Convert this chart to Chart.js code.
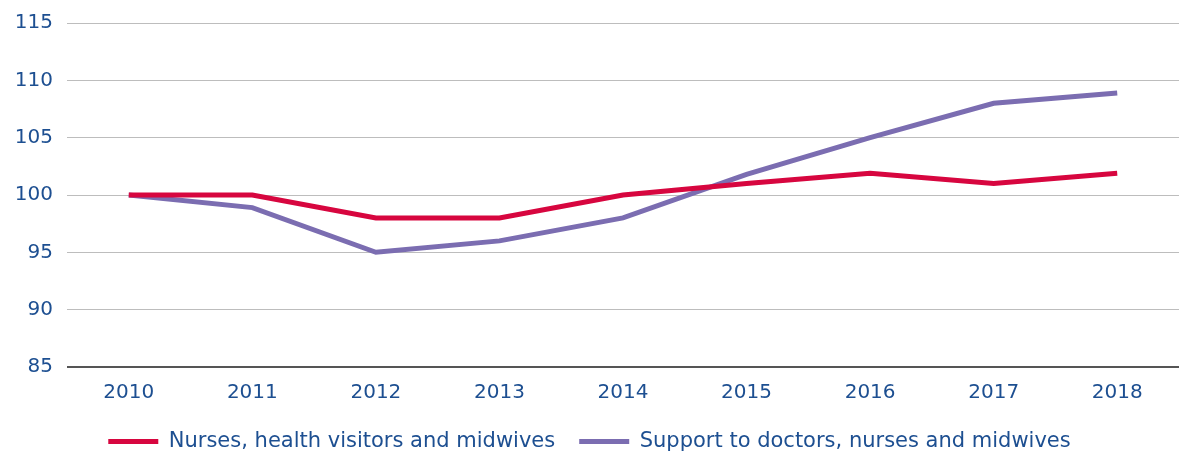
<!DOCTYPE html>
<html>
<head>
<meta charset="utf-8">
<script src="https://cdn.jsdelivr.net/npm/chart.js@4.4.1/dist/chart.umd.min.js"></script>
<style>
  html, body { margin: 0; padding: 0; background: #fff; }
  #wrap { width: 1179px; height: 455px; }
</style>
</head>
<body>
<div id="wrap"><canvas id="chart"></canvas></div>
<script>
// Index values (2010 = 100)
const years = ['2010', '2011', '2012', '2013', '2014', '2015', '2016', '2017', '2018'];
const nurses = [100, 100, 98, 98, 100, 101, 101.9, 101, 101.9];
const support = [100, 98.9, 95, 96, 98, 101.8, 105, 108, 108.9];
const seriesNames = ['Nurses, health visitors and midwives', 'Support to doctors, nurses and midwives'];
const seriesColors = ['#d7063f', '#7b6db1'];

const textColor = '#1d4f91';
const fontFamily = '"DejaVu Sans", sans-serif';

const ctx = document.getElementById('chart').getContext('2d');
new Chart(ctx, {
    type: 'line',
    data: {
        labels: years,
        datasets: [
            {
                label: seriesNames[0],
                data: nurses,
                borderColor: seriesColors[0],
                backgroundColor: seriesColors[0],
                borderWidth: 5,
                pointRadius: 0,
                tension: 0
            },
            {
                label: seriesNames[1],
                data: support,
                borderColor: seriesColors[1],
                backgroundColor: seriesColors[1],
                borderWidth: 5,
                pointRadius: 0,
                tension: 0
            }
        ]
    },
    options: {
        responsive: true,
        maintainAspectRatio: false,
        animation: false,
        layout: {
            padding: { top: 23, right: 0, bottom: -7, left: 0 }
        },
        plugins: {
            legend: {
                position: 'bottom',
                labels: {
                    color: textColor,
                    font: { family: fontFamily, size: 21 },
                    boxWidth: 50,
                    boxHeight: 5,
                    padding: 24,
                    useBorderRadius: true,
                    borderRadius: 2.5,
                    generateLabels: chart => chart.data.datasets.map((ds, i) => ({
                        text: ds.label,
                        fillStyle: ds.borderColor,
                        strokeStyle: ds.borderColor,
                        fontColor: textColor,
                        lineWidth: 0,
                        hidden: false,
                        datasetIndex: i
                    }))
                }
            },
            tooltip: { enabled: false }
        },
        scales: {
            x: {
                grid: { display: false },
                border: { display: false },
                offset: true,
                afterFit: scale => { scale.height = 40; },
                ticks: {
                    color: textColor,
                    font: { family: fontFamily, size: 20 },
                    padding: 6
                }
            },
            y: {
                min: 85,
                max: 115,
                afterFit: scale => {
                    scale.width = 67;
                    scale.paddingTop = 0;
                    scale.paddingBottom = 0;
                },
                border: { display: false },
                grid: {
                    drawTicks: false,
                    color: c => c.index === 0 ? '#555555' : '#bdbdbd',
                    lineWidth: c => c.index === 0 ? 2 : 1
                },
                ticks: {
                    stepSize: 5,
                    color: textColor,
                    font: { family: fontFamily, size: 20 },
                    padding: 14
                }
            }
        }
    }
});
</script>
</body>
</html>
